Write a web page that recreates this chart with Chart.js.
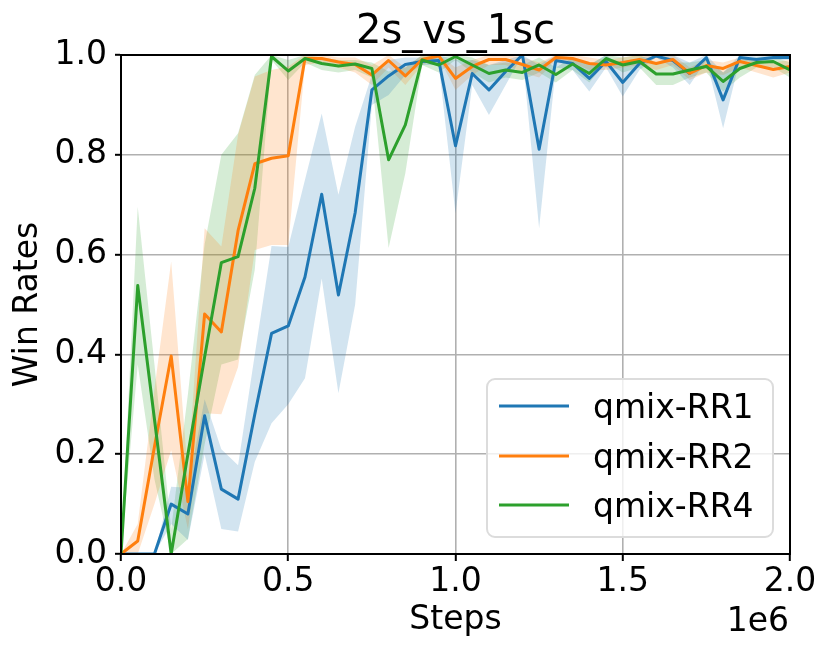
<!DOCTYPE html>
<html>
<head>
<meta charset="utf-8">
<script src="https://cdn.jsdelivr.net/npm/chart.js@4.4.0/dist/chart.umd.min.js"></script>
<style>
html,body{margin:0;padding:0;background:#fff;}
canvas{display:block;}
</style>
</head>
<body>
<canvas id="c" width="830" height="654"></canvas>
<script>
const steps = [0,50000,100000,150000,200000,250000,300000,350000,400000,450000,500000,550000,600000,650000,700000,750000,800000,850000,900000,950000,1000000,1050000,1100000,1150000,1200000,1250000,1300000,1350000,1400000,1450000,1500000,1550000,1600000,1650000,1700000,1750000,1800000,1850000,1900000,1950000,2000000];
const xTicks = [0, 500000, 1000000, 1500000, 2000000];
const yTicks = [0, 0.2, 0.4, 0.6, 0.8, 1.0];
const seriesNames = ['qmix-RR1','qmix-RR2','qmix-RR4'];
const chartTitle = '2s_vs_1sc';

const rr1Mean = [0,0,0,0.10,0.08,0.277,0.13,0.11,0.28,0.442,0.457,0.555,0.721,0.519,0.684,0.93,0.958,0.981,0.987,0.989,0.818,0.963,0.93,0.967,1.0,0.811,0.989,0.983,0.953,0.987,0.945,0.983,0.998,0.989,0.963,0.995,0.91,0.995,0.991,0.995,0.995];
const rr1Low  = [0,0,0,0.06,0.028,0.20,0.05,0.045,0.185,0.262,0.30,0.352,0.552,0.322,0.50,0.90,0.92,0.96,0.98,0.98,0.683,0.94,0.88,0.94,1.0,0.653,0.975,0.97,0.927,0.975,0.917,0.97,0.995,0.975,0.94,0.99,0.853,0.99,0.985,0.99,0.99];
const rr1High = [0,0,0,0.135,0.133,0.31,0.21,0.178,0.40,0.617,0.615,0.75,0.883,0.72,0.856,0.96,0.99,0.995,0.995,1.0,0.99,0.99,0.98,0.99,1.0,0.98,1.0,0.995,0.98,1.0,0.975,0.995,1.0,1.0,0.985,1.0,0.965,1.0,0.997,1.0,1.0];

const rr2Mean = [0,0.026,0.215,0.397,0.105,0.481,0.445,0.648,0.782,0.793,0.798,0.993,0.993,0.986,0.981,0.96,0.989,0.958,0.991,0.998,0.953,0.977,0.991,0.991,0.981,0.97,0.995,0.993,0.983,0.98,0.985,0.991,0.983,0.991,0.963,0.979,0.973,0.987,0.979,0.971,0.977];
const rr2Low  = [0,0,0.10,0.208,0.05,0.282,0.28,0.375,0.609,0.619,0.619,0.98,0.985,0.975,0.965,0.94,0.975,0.94,0.98,0.995,0.93,0.96,0.98,0.98,0.965,0.955,0.99,0.985,0.97,0.97,0.975,0.98,0.97,0.98,0.95,0.965,0.96,0.975,0.965,0.955,0.965];
const rr2High = [0,0.06,0.33,0.586,0.16,0.653,0.616,0.84,0.957,0.97,0.977,1.0,1.0,0.995,0.995,0.98,1.0,0.975,1.0,1.0,0.975,0.99,1.0,1.0,0.995,0.985,1.0,1.0,0.995,0.99,0.995,1.0,0.995,1.0,0.975,0.99,0.985,0.995,0.99,0.985,0.99];

const rr4Mean = [0,0.538,0.27,0,0.2,0.395,0.584,0.596,0.733,0.997,0.968,0.993,0.983,0.978,0.982,0.973,0.79,0.86,0.99,0.98,0.997,0.98,0.963,0.97,0.965,0.98,0.961,0.982,0.963,0.993,0.98,0.987,0.962,0.962,0.97,0.977,0.947,0.973,0.985,0.987,0.97];
const rr4Low  = [0,0.38,0.15,0,0.03,0.22,0.38,0.39,0.57,0.99,0.95,0.985,0.97,0.965,0.97,0.955,0.613,0.763,0.98,0.965,0.99,0.965,0.945,0.955,0.95,0.965,0.945,0.97,0.945,0.985,0.965,0.975,0.94,0.94,0.955,0.965,0.927,0.955,0.975,0.975,0.955];
const rr4High = [0,0.696,0.38,0.05,0.32,0.62,0.80,0.843,0.96,1.0,0.99,1.0,0.995,0.99,0.99,0.985,0.967,0.975,1.0,0.995,1.0,0.995,0.98,0.985,0.98,0.995,0.975,0.995,0.98,1.0,0.995,1.0,0.985,0.985,0.985,0.99,0.965,0.99,0.995,0.997,0.985];

const FONT = 'DejaVu Sans';
const colors = ['#1f77b4','#ff7f0e','#2ca02c'];
const bands = ['rgba(31,119,180,0.2)','rgba(255,127,14,0.2)','rgba(44,160,44,0.2)'];
const means = [rr1Mean, rr2Mean, rr4Mean];
const lows = [rr1Low, rr2Low, rr4Low];
const highs = [rr1High, rr2High, rr4High];

const pts = arr => steps.map((s, i) => ({x: s, y: arr[i]}));

const datasets = [];
for (let k = 0; k < 3; k++) {
  datasets.push({label: seriesNames[k] + ' low', data: pts(lows[k]), borderWidth: 0, pointRadius: 0, fill: false, order: 5, borderColor: 'rgba(0,0,0,0)', tension: 0});
  datasets.push({label: seriesNames[k] + ' high', data: pts(highs[k]), borderWidth: 0, pointRadius: 0, fill: '-1', backgroundColor: bands[k], order: 5, borderColor: 'rgba(0,0,0,0)', tension: 0});
}
for (let k = 0; k < 3; k++) {
  datasets.push({label: seriesNames[k], data: pts(means[k]), borderColor: colors[k], backgroundColor: colors[k], borderWidth: 3, pointRadius: 0, fill: false, order: 3 - k, tension: 0, borderJoinStyle: 'round', borderCapStyle: 'butt'});
}

const framePlugin = {
  id: 'frame',
  afterDraw(chart) {
    const {ctx, chartArea: a} = chart;
    ctx.save();
    ctx.strokeStyle = '#000';
    ctx.lineWidth = 2;
    ctx.strokeRect(a.left, a.top, a.right - a.left, a.bottom - a.top);
    // title over the plot area
    ctx.fillStyle = '#000';
    ctx.font = '40px "' + FONT + '"';
    ctx.textAlign = 'center';
    ctx.textBaseline = 'alphabetic';
    ctx.fillText(chartTitle, (a.left + a.right) / 2, 43);
    // offset label
    ctx.font = '33px "' + FONT + '"';
    ctx.textAlign = 'right';
    ctx.textBaseline = 'alphabetic';
    ctx.fillText('1e6', a.right - 1, 631);
    // legend
    const bx = 487, by = 379, bw = 286, bh = 158, r = 8;
    ctx.beginPath();
    ctx.moveTo(bx + r, by);
    ctx.arcTo(bx + bw, by, bx + bw, by + bh, r);
    ctx.arcTo(bx + bw, by + bh, bx, by + bh, r);
    ctx.arcTo(bx, by + bh, bx, by, r);
    ctx.arcTo(bx, by, bx + bw, by, r);
    ctx.closePath();
    ctx.fillStyle = 'rgba(255,255,255,0.8)';
    ctx.fill();
    ctx.strokeStyle = '#dcdcdc';
    ctx.lineWidth = 2;
    ctx.stroke();
    const rows = [406, 456, 505];
    ctx.textAlign = 'left';
    ctx.font = '33px "' + FONT + '"';
    for (let k = 0; k < 3; k++) {
      ctx.strokeStyle = colors[k];
      ctx.lineWidth = 3;
      ctx.beginPath();
      ctx.moveTo(499, rows[k]);
      ctx.lineTo(569, rows[k]);
      ctx.stroke();
      ctx.fillStyle = '#000';
      ctx.fillText(seriesNames[k], 593, rows[k] + 12);
    }
    ctx.restore();
  }
};

new Chart(document.getElementById('c'), {
  type: 'line',
  data: {datasets},
  plugins: [framePlugin],
  options: {
    responsive: false,
    animation: false,
    devicePixelRatio: 1,
    layout: {padding: {left: 0, right: 40, top: 55, bottom: 0}},
    plugins: {
      legend: {display: false},
      tooltip: {enabled: false},
      title: {display: false}
    },
    scales: {
      x: {
        type: 'linear', min: 0, max: 2000000,
        afterBuildTicks: s => { s.ticks = xTicks.map(v => ({value: v})); },
        afterFit: s => { s.height = 100; },
        ticks: {color: '#000', font: {family: FONT, size: 33}, padding: 2, maxRotation: 0, autoSkip: false, callback: v => (v / 1e6).toFixed(1)},
        grid: {color: '#b0b0b0', lineWidth: 1.6, tickColor: '#000', tickLength: 7, tickWidth: 2},
        border: {color: '#000', width: 2},
        title: {display: true, text: 'Steps', color: '#000', font: {family: FONT, size: 33, lineHeight: 1.2}, padding: {top: 0, bottom: 13.6}}
      },
      y: {
        type: 'linear', min: 0, max: 1,
        afterBuildTicks: s => { s.ticks = yTicks.map(v => ({value: v})); },
        afterFit: s => { s.width = 121; },
        ticks: {color: '#000', font: {family: FONT, size: 33}, padding: 8, callback: v => v.toFixed(1)},
        grid: {color: '#b0b0b0', lineWidth: 1.6, tickColor: '#000', tickLength: 6, tickWidth: 2},
        border: {color: '#000', width: 2},
        title: {display: true, text: 'Win Rates', color: '#000', font: {family: FONT, size: 33, lineHeight: 1.2}, padding: {top: 9, bottom: 0}}
      }
    }
  }
});
</script>
</body>
</html>
